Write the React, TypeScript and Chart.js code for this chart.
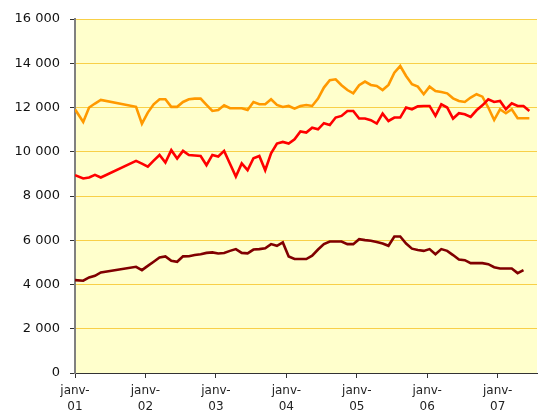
import React, { useEffect, useRef } from "react";
import { Chart, registerables } from "chart.js";

Chart.register(...registerables);

// x positions: months elapsed since January 2001
const X_MONTHS = [
  0, 1.4, 2.4, 3.4, 4.4,
  10.4, 11.4, 12.4, 13.4, 14.4, 15.4, 16.4, 17.4, 18.4, 19.4,
  20.4, 21.4, 22.4, 23.4, 24.4, 25.4, 26.4, 27.4, 28.4, 29.4,
  30.4, 31.4, 32.4, 33.4, 34.4, 35.4, 36.4, 37.4, 38.4, 39.4,
  40.4, 41.4, 42.4, 43.4, 44.4, 45.4, 46.4, 47.4, 48.4, 49.4,
  50.4, 51.4, 52.4, 53.4, 54.4, 55.4, 56.4, 57.4, 58.4, 59.4,
  60.4, 61.4, 62.4, 63.4, 64.4, 65.4, 66.4, 67.4, 68.4, 69.4,
  70.4, 71.4, 72.4, 73.4, 74.4, 75.4, 76.4, 77.4,
];

const ORANGE_SERIES = [
  11920, 11350, 12000, 12180, 12340,
  12030, 11270, 11770, 12145, 12370, 12370, 12030, 12030, 12250, 12370,
  12400, 12400, 12120, 11845, 11890, 12100, 11965, 11965, 11965, 11890,
  12250, 12145, 12145, 12370, 12115, 12025, 12070, 11950, 12070, 12115,
  12070, 12400, 12900, 13230, 13275, 13005, 12790, 12640, 13005, 13170,
  13020, 12970, 12790, 13020, 13575, 13875, 13425, 13050, 12945, 12600,
  12945, 12745, 12700, 12640, 12415, 12295, 12250, 12450, 12600, 12490,
  12000, 11435, 11920, 11740, 11920, 11515, 11515, 11515,
];

const RED_SERIES = [
  8940, 8790, 8835, 8955, 8835,
  9585, 9460, 9330, 9600, 9855, 9510, 10070, 9690, 10040, 9855,
  9830, 9810, 9390, 9855, 9785, 10040, 9460, 8880, 9470, 9165,
  9705, 9810, 9165, 9930, 10370, 10445, 10370, 10565, 10920, 10865,
  11090, 11015, 11290, 11210, 11545, 11620, 11845, 11845, 11500, 11500,
  11425, 11275, 11725, 11390, 11545, 11545, 12000, 11920, 12050, 12070,
  12070, 11620, 12145, 12000, 11500, 11740, 11695, 11575, 11875, 12100,
  12370, 12250, 12295, 11920, 12190, 12070, 12070, 11845,
];

const DARK_SERIES = [
  4200, 4170, 4320, 4395, 4545,
  4800, 4650, 4840, 5030, 5225, 5270, 5070, 5025, 5270, 5280,
  5330, 5370, 5430, 5450, 5400, 5420, 5520, 5600, 5430, 5405,
  5580, 5600, 5640, 5825, 5750, 5900, 5270, 5150, 5150, 5150,
  5300, 5580, 5825, 5945, 5945, 5945, 5825, 5825, 6050, 6005,
  5975, 5920, 5855, 5750, 6170, 6170, 5850, 5620, 5560, 5520,
  5600, 5370, 5600, 5520, 5330, 5130, 5100, 4965, 4965, 4965,
  4920, 4780, 4725, 4725, 4725, 4515, 4650, null,
];

const YEAR_TICKS = ["janv-01", "janv-02", "janv-03", "janv-04", "janv-05", "janv-06", "janv-07"];
const Y_MIN = 0;
const Y_MAX = 16000;
const Y_STEP = 2000;
const X_MAX = 78.7;

function toPoints(values: (number | null)[]) {
  const pts: { x: number; y: number }[] = [];
  values.forEach((v, i) => {
    if (v !== null && v !== undefined) pts.push({ x: X_MONTHS[i], y: v });
  });
  return pts;
}

function fmt(v: number) {
  return String(v).replace(/\B(?=(\d{3})+(?!\d))/g, " ");
}

const plotBg = {
  id: "plotBg",
  beforeDraw(chart: any) {
    const { ctx, chartArea } = chart;
    if (!chartArea) return;
    ctx.save();
    ctx.fillStyle = "#FFFFCC";
    ctx.fillRect(chartArea.left, chartArea.top, chartArea.right - chartArea.left, chartArea.bottom - chartArea.top);
    ctx.restore();
  },
};

export default function App() {
  const ref = useRef<HTMLCanvasElement | null>(null);

  useEffect(() => {
    if (!ref.current) return;
    const yFont = { family: "'DejaVu Sans', Verdana, sans-serif", size: 13 };
    const xFont = { family: "'DejaVu Sans', Verdana, sans-serif", size: 12, lineHeight: 1.3 };
    const chart = new Chart(ref.current, {
      type: "line",
      data: {
        datasets: [
          {
            label: "Série 3",
            data: toPoints(DARK_SERIES),
            borderColor: "#800000",
            borderWidth: 2.6,
            pointRadius: 0,
            tension: 0,
          },
          {
            label: "Série 2",
            data: toPoints(RED_SERIES),
            borderColor: "#FF0000",
            borderWidth: 2.6,
            pointRadius: 0,
            tension: 0,
          },
          {
            label: "Série 1",
            data: toPoints(ORANGE_SERIES),
            borderColor: "#FF9900",
            borderWidth: 2.6,
            pointRadius: 0,
            tension: 0,
          },
        ],
      },
      options: {
        responsive: false,
        animation: false,
        devicePixelRatio: 1,
        layout: { padding: { top: 19, right: 1, bottom: 0, left: 0 } },
        plugins: {
          legend: { display: false },
          tooltip: { enabled: false },
        },
        scales: {
          x: {
            type: "linear",
            min: 0,
            max: X_MAX,
            afterFit: (s: any) => {
              s.height = 37;
            },
            ticks: {
              stepSize: 12,
              includeBounds: false,
              autoSkip: false,
              maxRotation: 0,
              padding: 5,
              color: "#222",
              font: xFont,
              callback: (v: any) => {
                const i = Math.round(Number(v) / 12);
                const s = YEAR_TICKS[i];
                return s ? [s.slice(0, 5), s.slice(5)] : "";
              },
            },
            grid: {
              drawOnChartArea: false,
              drawTicks: true,
              tickLength: 5,
              tickColor: "#333",
            },
            border: { color: "#333", width: 1 },
          },
          y: {
            min: Y_MIN,
            max: Y_MAX,
            afterFit: (s: any) => {
              s.width = 75;
            },
            ticks: {
              stepSize: Y_STEP,
              padding: 10,
              color: "#111",
              font: yFont,
              callback: (v: any) => fmt(Number(v)),
            },
            grid: {
              color: "#F8D048",
              lineWidth: 1,
              tickLength: 5,
              tickColor: "#333",
            },
            border: { color: "#808080", width: 2 },
          },
        },
      },
      plugins: [plotBg],
    });
    return () => chart.destroy();
  }, []);

  return (
    <div style={{ position: "absolute", left: 0, top: 0, width: 538, height: 410, background: "#fff" }}>
      <canvas ref={ref} width={538} height={410} />
    </div>
  );
}
